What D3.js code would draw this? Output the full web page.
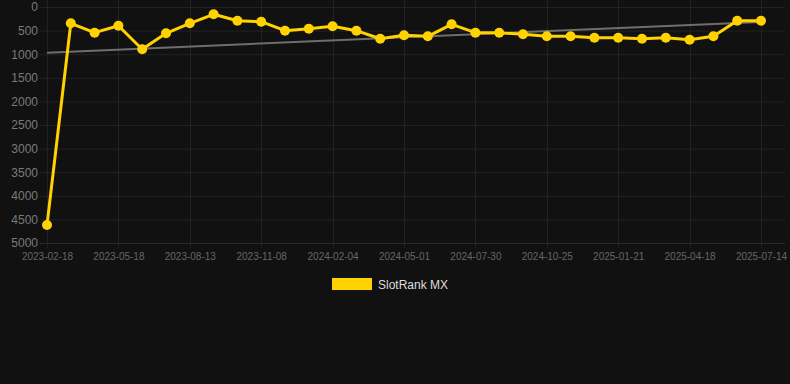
<!DOCTYPE html>
<html>
<head>
<meta charset="utf-8">
<script src="https://cdn.jsdelivr.net/npm/d3@7"></script>
<style>
  html, body { margin: 0; padding: 0; background: #111111; }
  svg { display: block; font-family: "Liberation Sans", Arial, sans-serif; }
</style>
</head>
<body>
<svg id="chart" width="790" height="384"></svg>
<script>
// dates, one per point (only every 3rd is labelled on the axis)
const dates = [
  "2023-02-18", "2023-03-19", "2023-04-18", "2023-05-18", "2023-06-16", "2023-07-15",
  "2023-08-13", "2023-09-11", "2023-10-10", "2023-11-08", "2023-12-08", "2024-01-06",
  "2024-02-04", "2024-03-04", "2024-04-02", "2024-05-01", "2024-05-31", "2024-06-30",
  "2024-07-30", "2024-08-28", "2024-09-26", "2024-10-25", "2024-11-23", "2024-12-23",
  "2025-01-21", "2025-02-19", "2025-03-20", "2025-04-18", "2025-05-17", "2025-06-15",
  "2025-07-14"
];
// rank values (lower is better, axis is reversed)
const ranks = [
  4620, 345, 544, 396, 896, 558, 345, 155, 290, 311, 502, 460,
  409, 502, 672, 600, 621, 367, 544, 544, 578, 621, 621, 650,
  650, 672, 650, 693, 621, 290, 290
];
// trend line, start and end values
const trend = [968, 316];
const yTicks = [0, 500, 1000, 1500, 2000, 2500, 3000, 3500, 4000, 4500, 5000];
const seriesName = "SlotRank MX";

const YELLOW = "#ffd200";
const GRID = "#222222";

const svg = d3.select("#chart");

const x = d3.scalePoint().domain(dates).range([47, 761]);
const y = d3.scaleLinear().domain([0, 5000]).range([7, 243]);

// grid
const grid = svg.append("g");
grid.selectAll("line.h")
  .data(yTicks)
  .join("line")
  .attr("x1", 40).attr("x2", 785)
  .attr("y1", d => y(d) + 0.5).attr("y2", d => y(d) + 0.5)
  .attr("stroke", d => d === 5000 ? "#2a2a2a" : GRID);

const xTickVals = dates.filter((d, i) => i % 3 === 0);
grid.selectAll("line.v")
  .data(xTickVals)
  .join("line")
  .attr("x1", d => Math.round(x(d)) + 0.5).attr("x2", d => Math.round(x(d)) + 0.5)
  .attr("y1", 0).attr("y2", 248)
  .attr("stroke", GRID);

// y axis labels
const yAxis = svg.append("g")
  .attr("transform", "translate(38,0)")
  .call(d3.axisLeft(y).tickValues(yTicks).tickFormat(d3.format("d")).tickSize(0).tickPadding(0));
yAxis.select(".domain").remove();
yAxis.selectAll("text")
  .attr("fill", "#7a7a7a")
  .attr("font-size", 12)
  .attr("font-family", "Liberation Sans, Arial, sans-serif");

// x axis labels
const xAxis = svg.append("g")
  .attr("transform", "translate(0,253)")
  .call(d3.axisBottom(x).tickValues(xTickVals).tickSize(0).tickPadding(0));
xAxis.select(".domain").remove();
xAxis.selectAll("text")
  .attr("fill", "#666666")
  .attr("font-size", 10)
  .attr("font-family", "Liberation Sans, Arial, sans-serif");

// trend line
svg.append("line")
  .attr("x1", x(dates[0])).attr("y1", y(trend[0]))
  .attr("x2", x(dates[dates.length - 1])).attr("y2", y(trend[1]))
  .attr("stroke", "#6e6e6e")
  .attr("stroke-width", 2);

// series
const pts = dates.map((d, i) => [x(d), y(ranks[i])]);
svg.append("path")
  .attr("d", d3.line()(pts))
  .attr("fill", "none")
  .attr("stroke", YELLOW)
  .attr("stroke-width", 3)
  .attr("stroke-linejoin", "round");

svg.append("g")
  .selectAll("circle")
  .data(pts)
  .join("circle")
  .attr("cx", d => d[0])
  .attr("cy", d => d[1])
  .attr("r", 5)
  .attr("fill", YELLOW);

// legend
const legend = svg.append("g").attr("transform", "translate(332,278)");
legend.append("rect")
  .attr("width", 40).attr("height", 12)
  .attr("fill", YELLOW);
legend.append("text")
  .attr("x", 46).attr("y", 10.5)
  .attr("fill", "#dddddd")
  .attr("font-size", 12)
  .text(seriesName);
</script>
</body>
</html>
